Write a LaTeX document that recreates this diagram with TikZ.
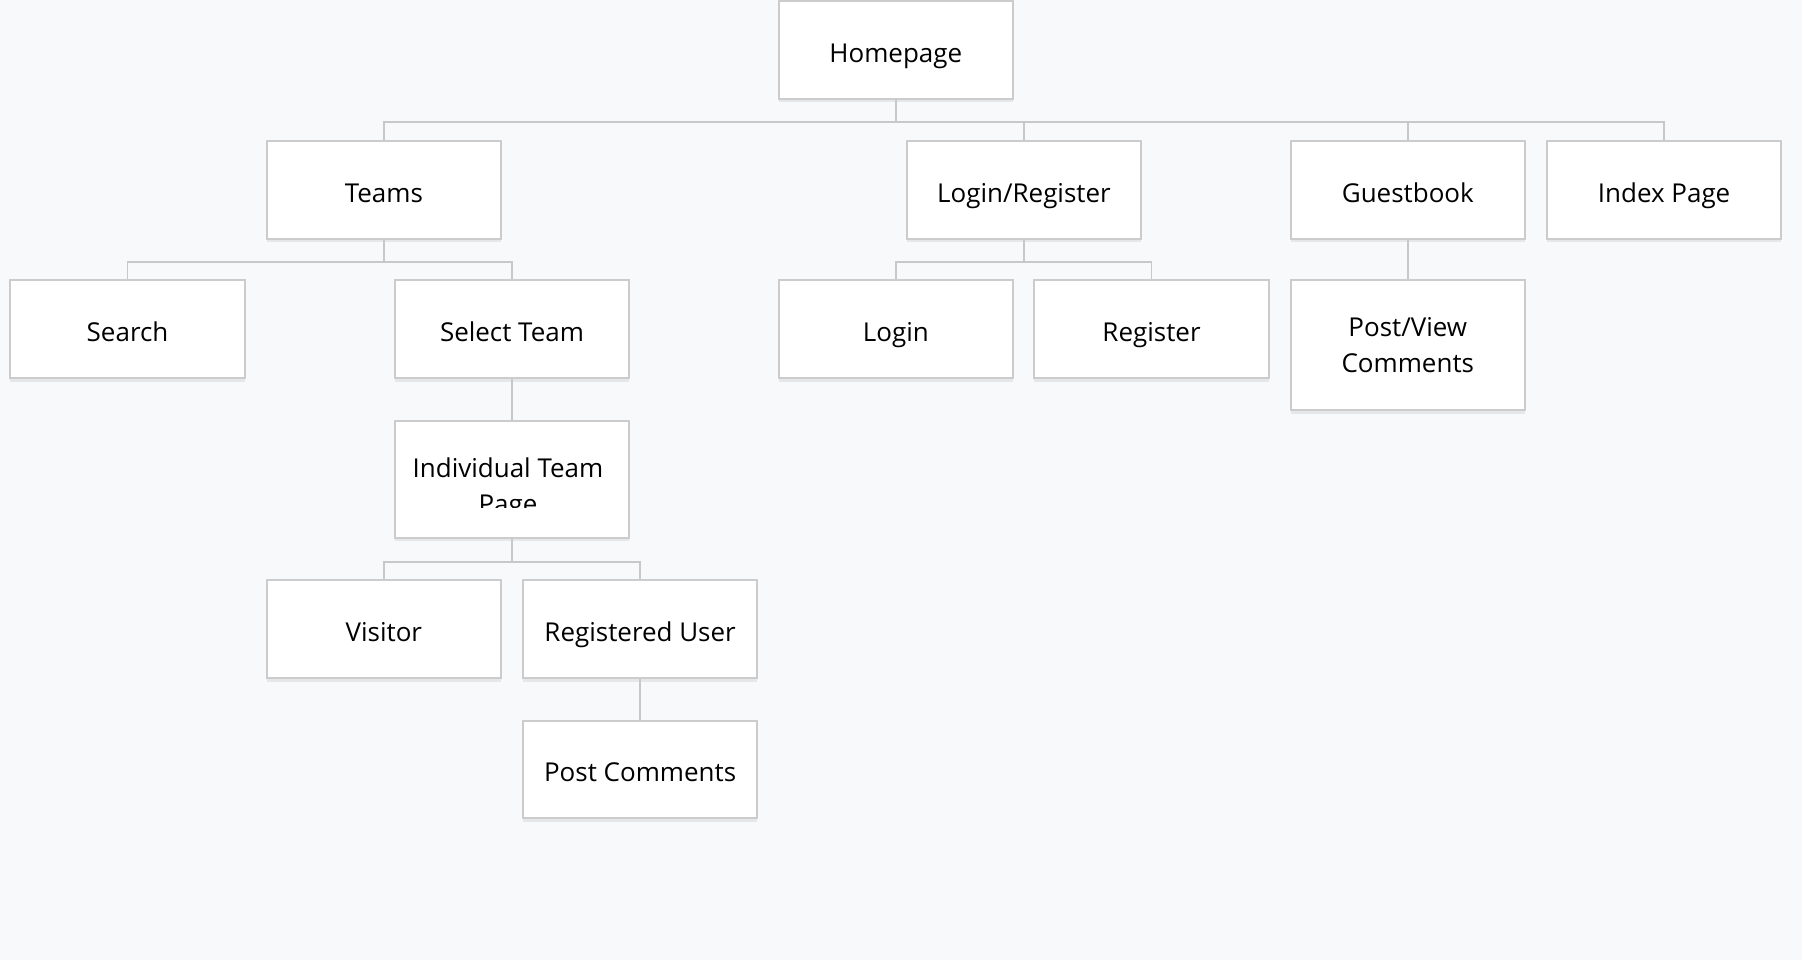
\documentclass[tikz,border=0pt]{standalone}
\usepackage{fontspec}
\setmainfont{Open Sans}
\usetikzlibrary{shadows}
\definecolor{bgpage}{HTML}{F8F9FA}
\definecolor{boxline}{HTML}{CCCCCC}
\definecolor{linkline}{HTML}{C6C8CA}
\tikzset{
  pagetext/.style={inner sep=0pt, align=center, font=\fontsize{11.3}{15.5}\selectfont},
  pagebox/.style={pagetext, draw=boxline, line width=0.9pt, fill=white, minimum width=102pt,
    minimum height=42.5pt,
    drop shadow={shadow xshift=0pt, shadow yshift=-1.5pt, opacity=0.07, fill=black}},
  page/.style={pagebox, text height=10.5pt, text depth=0pt},
  link/.style={draw=linkline, line width=0.8pt},
}
\begin{document}
\begin{tikzpicture}[x=0.5pt, y=-0.5pt]
        % Background
        \fill[bgpage] (0,0) rectangle (1568,835.4);
        \useasboundingbox (0,0) rectangle (1568,835.4);

        % Define pages
        \node[page] (home) at (779.5,43.5) {Homepage};

        \node[page] (teams) at (334,165.5) {Teams};
        \node[page] (logreg) at (891,165.5) {Login/Register};
        \node[page] (guest) at (1225,165.5) {Guestbook};
        \node[page] (index) at (1448,165.5) {Index Page};

        \node[page] (search) at (111,286.5) {Search};
        \node[page] (select) at (445.5,286.5) {Select Team};
        \node[page] (login) at (779.5,286.5) {Login};
        \node[page] (register) at (1002,286.5) {Register};
        \node[pagebox, minimum height=56.5pt] (postview) at (1225,300.5) {Post/View\\Comments};

        \node[page, minimum height=51pt] (indiv) at (445.5,417) {};
        \begin{scope}
          \clip (indiv.north west) rectangle ([yshift=13.5pt]indiv.south east);
          \node[pagetext] (indivtext) at (442,425.5) {Individual Team\\Page};
        \end{scope}

        \node[page] (visitor) at (334,547.5) {Visitor};
        \node[page] (reguser) at (557,547.5) {Registered User};
        \node[page] (postcom) at (557,669.5) {Post Comments};

        % Draw links
        \foreach \child in {teams, logreg, guest, index}
          \draw[link] (home.south) -- ++(0,19) -| (\child.north);
        \foreach \child in {search, select}
          \draw[link] (teams.south) -- ++(0,19) -| (\child.north);
        \foreach \child in {login, register}
          \draw[link] (logreg.south) -- ++(0,19) -| (\child.north);
        \foreach \child in {visitor, reguser}
          \draw[link] (indiv.south) -- ++(0,20) -| (\child.north);
        \draw[link] (guest.south) -- (postview.north);
        \draw[link] (select.south) -- (indiv.north);
        \draw[link] (reguser.south) -- (postcom.north);
\end{tikzpicture}
\end{document}
